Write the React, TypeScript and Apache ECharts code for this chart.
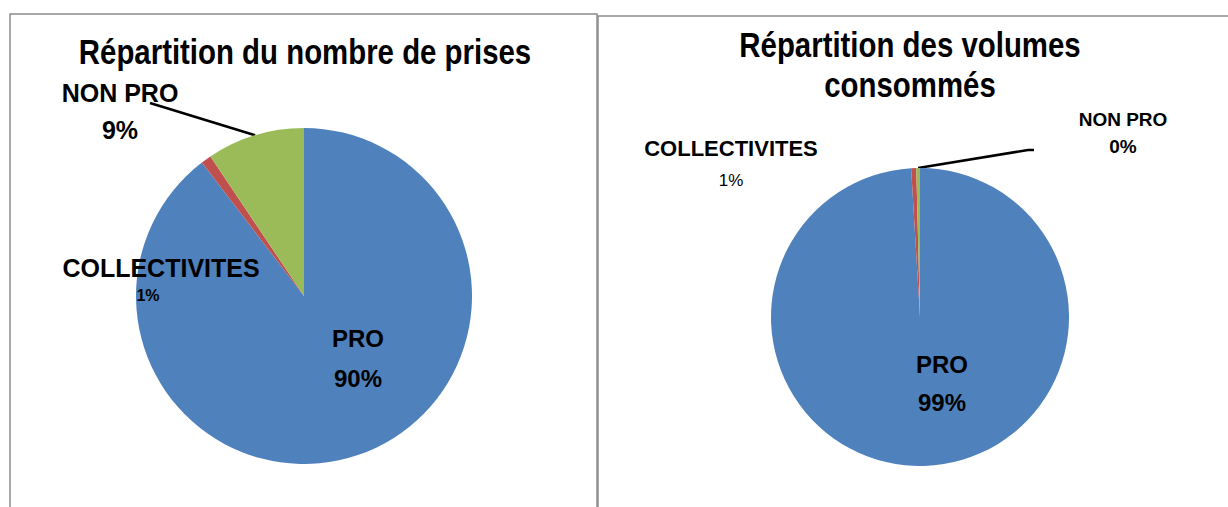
import React, { useEffect, useRef } from "react";
import * as echarts from "echarts";

const categories = ["PRO", "COLLECTIVITES", "NON PRO"];
const prisesValues = [89.6, 1.0, 9.4];
const volumesValues = [99.05, 0.55, 0.4];
const titleLeft = "Répartition du nombre de prises";
const titleRight = "Répartition des volumes\nconsommés";
const colors = ["#4F81BD", "#C0504D", "#9BBB59"];

// label anchor positions per [chart][slice]
const labelPos = [
  [[358, 358], [161, 281], [120, 111]],
  [[942, 383], [731, 164], [1123, 133]],
];
const styleKeys = ["p", "c", "n"];

const TITLE_FONT = '"Liberation Sans", Arial, sans-serif';
const LABEL_FONT = '"Liberation Sans", Arial, sans-serif';

function makeData(values: number[]) {
  return categories.map((name, i) => ({
    name,
    value: values[i],
    itemStyle: { color: colors[i] },
    label: { position: i === 0 ? "inside" : "outside" },
    labelLine: { show: i === 2, lineStyle: { color: "#000", width: 2.5 } },
  }));
}

const formatter = (p: any) => {
  const k = styleKeys[p.dataIndex];
  return `{${k}n|${p.name}}\n{${k}p|${Math.round(p.percent)}%}`;
};

const b = (size: number, lh: number, weight: any = "bold", extra: any = {}) => ({
  fontFamily: LABEL_FONT,
  fontWeight: weight,
  fontSize: size,
  lineHeight: lh,
  color: "#000",
  align: "center",
  ...extra,
});

const richLeft = {
  pn: b(24, 40),
  pp: b(24, 40),
  cn: b(25, 28),
  cp: b(16, 26, "bold", { padding: [0, 26, 0, 0] }),
  nn: b(25, 37),
  np: b(25, 37),
};
const richRight = {
  pn: b(24, 38),
  pp: b(24, 38),
  cn: b(22, 32),
  cp: b(17, 32, "normal"),
  nn: b(19, 27),
  np: b(19, 27),
};

const lineEnds: Record<number, number[][]> = {
  0: [[150, 103]],
  1: [[1028, 150], [1034, 150]],
};

const labelLayout = (params: any) => {
  const [x, y] = labelPos[params.seriesIndex][params.dataIndex];
  const res: any = { x, y, align: "center", verticalAlign: "middle" };
  if (params.dataIndex === 2 && params.labelLinePoints && params.labelLinePoints.length) {
    res.labelLinePoints = [params.labelLinePoints[0], ...lineEnds[params.seriesIndex]];
  }
  return res;
};

const titleStyle = {
  align: "center",
  verticalAlign: "middle",
  fontFamily: TITLE_FONT,
  fontWeight: "bold",
  fontSize: 35,
  lineHeight: 40,
  fill: "#000",
};

const option: any = {
  animation: false,
  backgroundColor: "#ffffff",
  graphic: [
    {
      type: "rect",
      shape: { x: 10, y: 14, width: 587, height: 540 },
      style: { fill: "none", stroke: "#8c8c8c", lineWidth: 1.5 },
      silent: true,
    },
    {
      type: "rect",
      shape: { x: 598, y: 16, width: 660, height: 540 },
      style: { fill: "none", stroke: "#8c8c8c", lineWidth: 1.5 },
      silent: true,
    },
    {
      type: "text",
      x: 305,
      y: 52,
      scaleX: 0.84,
      style: { ...titleStyle, text: titleLeft },
    },
    {
      type: "text",
      x: 910,
      y: 65,
      scaleX: 0.84,
      style: { ...titleStyle, text: titleRight },
    },
  ],
  series: [
    {
      type: "pie",
      center: [304, 296],
      radius: 168,
      startAngle: 90,
      clockwise: true,
      avoidLabelOverlap: false,
      itemStyle: { borderWidth: 0 },
      label: { show: true, formatter, rich: richLeft },
      labelLayout,
      emphasis: { disabled: true },
      data: makeData(prisesValues),
    },
    {
      type: "pie",
      center: [920, 317],
      radius: 149,
      startAngle: 90,
      clockwise: true,
      avoidLabelOverlap: false,
      itemStyle: { borderWidth: 0 },
      label: { show: true, formatter, rich: richRight },
      labelLayout,
      emphasis: { disabled: true },
      data: makeData(volumesValues),
    },
  ],
};

export default function App() {
  const ref = useRef<HTMLDivElement>(null);
  useEffect(() => {
    const chart = echarts.init(ref.current!, null, { renderer: "svg" });
    chart.setOption(option);
    return () => chart.dispose();
  }, []);
  return (
    <div
      ref={ref}
      style={{ position: "fixed", left: 0, top: 0, width: 1228, height: 507, background: "#fff" }}
    />
  );
}
